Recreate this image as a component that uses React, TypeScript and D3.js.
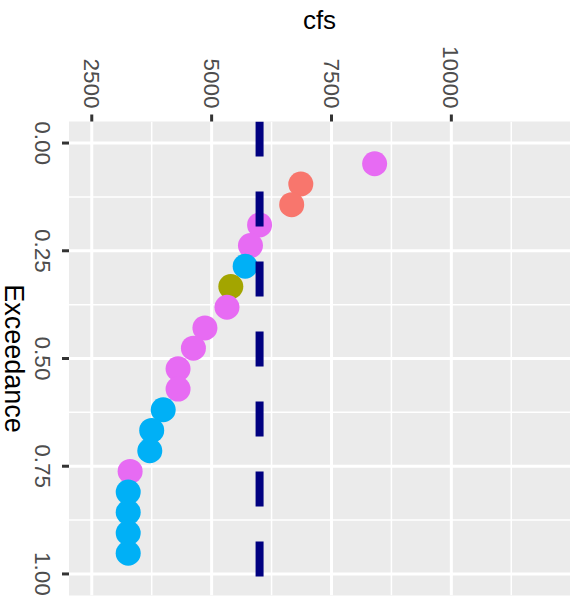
import React from "react";
import * as d3 from "d3";

// Data
const exceedance = [0.048, 0.095, 0.143, 0.19, 0.238, 0.286, 0.333, 0.381, 0.429, 0.476, 0.524, 0.571, 0.619, 0.667, 0.714, 0.762, 0.81, 0.857, 0.905, 0.952];
const cfs = [8400, 6860, 6670, 6000, 5810, 5700, 5400, 5320, 4860, 4620, 4300, 4300, 3990, 3750, 3710, 3300, 3260, 3260, 3260, 3260];
const group = ["E", "A", "A", "E", "E", "D", "B", "E", "E", "E", "E", "E", "D", "D", "D", "E", "D", "D", "D", "D"];
const groupNames = ["A", "B", "C", "D", "E"];
const groupColors = ["#F8766D", "#A3A500", "#00BF7D", "#00B0F6", "#E76BF3"];
const cfsTicks = [2500, 5000, 7500, 10000];
const cfsMinor = [1250, 3750, 6250, 8750, 11250];
const excTicks = [0, 0.25, 0.5, 0.75, 1];
const excTickLabels = ["0.00", "0.25", "0.50", "0.75", "1.00"];
const excMinor = [0.125, 0.375, 0.625, 0.875];
const cfsLimits = [2500, 12000];
const excLimits = [0, 1];
const refLine = 6000;

const W = 574;
const H = 601;
const panel = { left: 69, right: 570, top: 121.5, bottom: 595.5 };

export default function App() {
  const cSpan = cfsLimits[1] - cfsLimits[0];
  const eSpan = excLimits[1] - excLimits[0];
  const x = d3
    .scaleLinear()
    .domain([cfsLimits[0] - 0.05 * cSpan, cfsLimits[1] + 0.05 * cSpan])
    .range([panel.left, panel.right]);
  const y = d3
    .scaleLinear()
    .domain([excLimits[0] - 0.05 * eSpan, excLimits[1] + 0.05 * eSpan])
    .range([panel.top, panel.bottom]);
  const color = d3.scaleOrdinal<string, string>().domain(groupNames).range(groupColors);
  const font = "'Liberation Sans', Arial, Helvetica, sans-serif";
  const inX = (v: number) => x(v) >= panel.left && x(v) <= panel.right;
  const inY = (v: number) => y(v) >= panel.top && y(v) <= panel.bottom;

  return (
    <svg
      width={W}
      height={H}
      style={{ position: "absolute", left: 0, top: 0, background: "#fff" }}
      fontFamily={font}
    >
      <defs>
        <clipPath id="panelClip">
          <rect x={panel.left} y={panel.top} width={panel.right - panel.left} height={panel.bottom - panel.top} />
        </clipPath>
      </defs>
      <rect x={panel.left} y={panel.top} width={panel.right - panel.left} height={panel.bottom - panel.top} fill="#EBEBEB" />
      <g clipPath="url(#panelClip)">
        {cfsMinor.filter(inX).map((v) => (
          <line key={"cm" + v} x1={x(v)} x2={x(v)} y1={panel.top} y2={panel.bottom} stroke="#fff" strokeWidth={1.5} />
        ))}
        {excMinor.filter(inY).map((v) => (
          <line key={"em" + v} y1={y(v)} y2={y(v)} x1={panel.left} x2={panel.right} stroke="#fff" strokeWidth={1.5} />
        ))}
        {cfsTicks.map((v) => (
          <line key={"cM" + v} x1={x(v)} x2={x(v)} y1={panel.top} y2={panel.bottom} stroke="#fff" strokeWidth={3} />
        ))}
        {excTicks.map((v) => (
          <line key={"eM" + v} y1={y(v)} y2={y(v)} x1={panel.left} x2={panel.right} stroke="#fff" strokeWidth={3} />
        ))}
        {cfs.map((v, i) => (
          <circle key={"p" + i} cx={x(v)} cy={y(exceedance[i])} r={12.5} fill={color(group[i])} />
        ))}
        <line
          x1={x(refLine)}
          x2={x(refLine)}
          y1={panel.top}
          y2={panel.bottom}
          stroke="#000080"
          strokeWidth={8}
          strokeDasharray="35 35"
        />
      </g>
      {/* cfs axis (top) */}
      {cfsTicks.map((v, i) => (
        <g key={"ct" + v}>
          <line x1={x(v)} x2={x(v)} y1={panel.top - 7} y2={panel.top} stroke="#333" strokeWidth={3} />
          <text
            transform={`translate(${x(v)},${panel.top - 13}) rotate(90)`}
            textAnchor="end"
            dy="0.35em"
            fontSize={22.5}
            fill="#4D4D4D"
          >
            {cfsTicks[i]}
          </text>
        </g>
      ))}
      <text x={(panel.left + panel.right) / 2} y={29} textAnchor="middle" fontSize={26} fill="#000">
        cfs
      </text>
      {/* exceedance axis (left) */}
      {excTicks.map((v, i) => (
        <g key={"et" + v}>
          <line x1={panel.left - 7} x2={panel.left} y1={y(v)} y2={y(v)} stroke="#333" strokeWidth={3} />
          <text
            transform={`translate(${35},${y(v)}) rotate(90)`}
            textAnchor="middle"
            fontSize={22.5}
            fill="#4D4D4D"
          >
            {excTickLabels[i]}
          </text>
        </g>
      ))}
      <text
        transform={`translate(${5},${(panel.top + panel.bottom) / 2}) rotate(90)`}
        textAnchor="middle"
        fontSize={27}
        fill="#000"
      >
        Exceedance
      </text>
    </svg>
  );
}
